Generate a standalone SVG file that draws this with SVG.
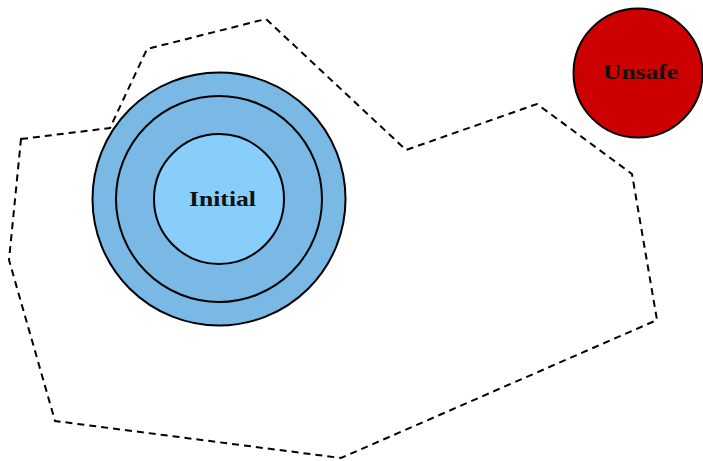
<svg xmlns="http://www.w3.org/2000/svg" width="703" height="461" viewBox="0 0 703 461">
<style>
.reg{fill:none;stroke:#000;stroke-width:2;stroke-dasharray:7,5}
.c{stroke:#000;stroke-width:2}
.t{font-family:"Liberation Serif","DejaVu Serif",serif;font-weight:bold;font-size:21px;fill:#111}
</style>
<rect width="703" height="461" fill="#fff"/>
<g id="region">
<polygon class="reg" points="21,139 110,128 147,49 266,19 406,150 537,104 632,174 657,320 341,458 55,421 9,260"/>
</g>
<g id="initial">
<circle class="c" cx="219" cy="199" r="126.5" fill="#7AB9E5"/>
<circle class="c" cx="219" cy="199" r="103" fill="#7AB9E5"/>
<circle class="c" cx="219" cy="199" r="65" fill="#87CEFA"/>
<text class="t" x="189" y="206" textLength="67" lengthAdjust="spacingAndGlyphs">Initial</text>
</g>
<g id="unsafe">
<circle class="c" cx="638" cy="73" r="64.5" fill="#CC0000"/>
<text class="t" x="603" y="79" textLength="75" lengthAdjust="spacingAndGlyphs">Unsafe</text>
</g>
<g id="connectors"/>
</svg>
